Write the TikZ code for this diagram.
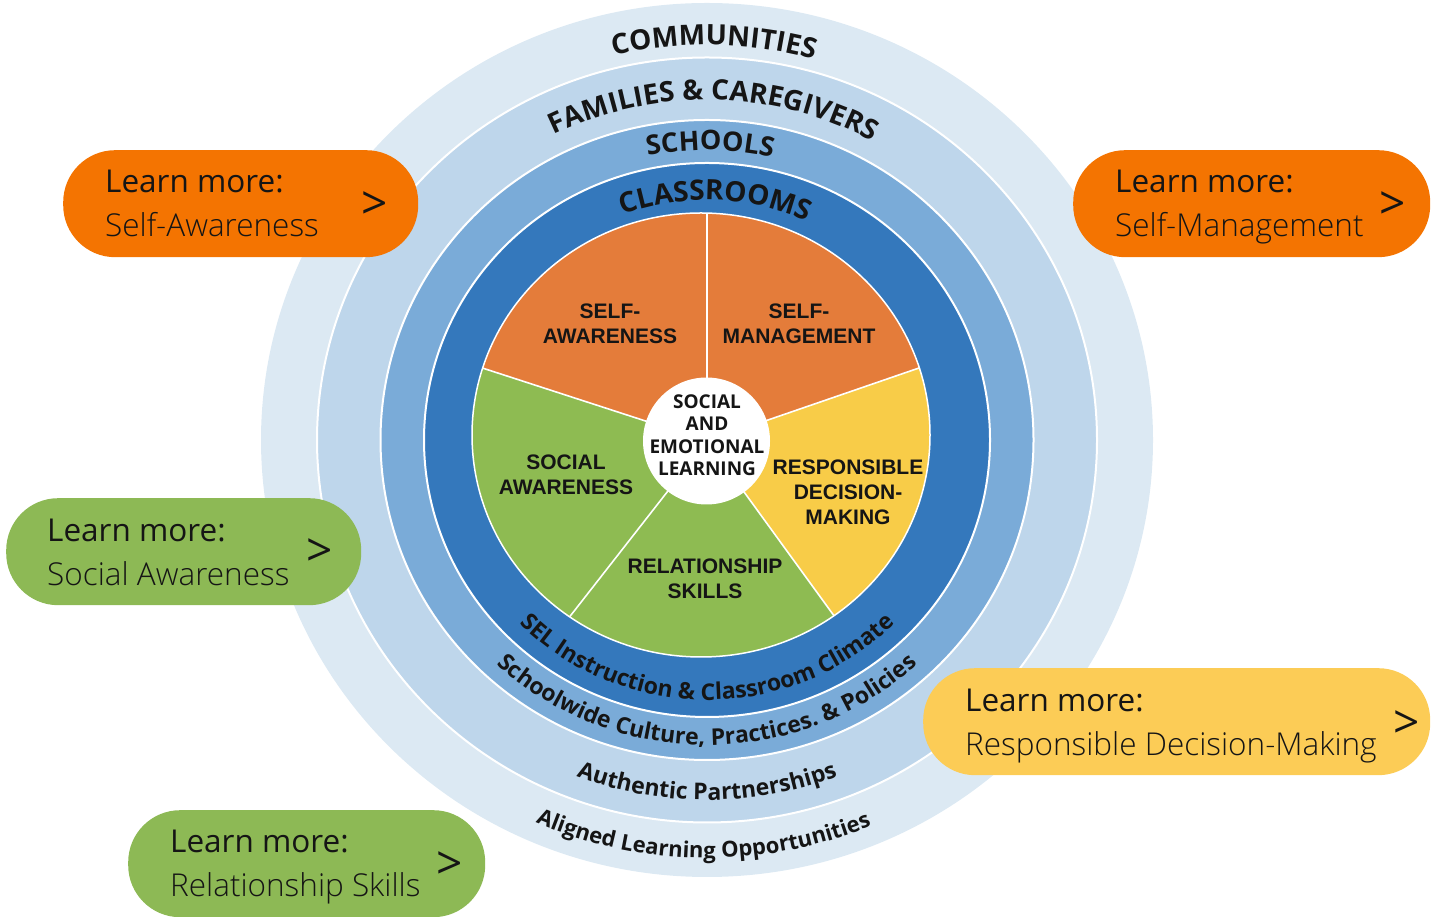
\documentclass[tikz,border=0pt]{standalone}
\usepackage{fontspec}
\setmainfont{Open Sans}
\newfontfamily\btnlight{Open Sans Light}
\newfontfamily\pielabel{Liberation Sans}
\usetikzlibrary{decorations.text}

\definecolor{ringcomm}{HTML}{DCE9F3}
\definecolor{ringfam}{HTML}{BED6EB}
\definecolor{ringschool}{HTML}{7AABD8}
\definecolor{ringclass}{HTML}{3478BC}
\definecolor{pieorange}{HTML}{E47C3A}
\definecolor{piegreen}{HTML}{8EBB52}
\definecolor{pieyellow}{HTML}{F8CC48}
\definecolor{btnorange}{HTML}{F47401}
\definecolor{btngreen}{HTML}{8DB955}
\definecolor{btnyellow}{HTML}{FCCC56}
\definecolor{ink}{HTML}{151515}

\newcommand\capsarc{\bfseries\fontsize{28}{28}\selectfont}
\newcommand\capsarcs{\bfseries\fontsize{27}{27}\selectfont}
\newcommand\lowarc{\bfseries\fontsize{23}{23}\selectfont}
\newcommand\lowarcs{\bfseries\fontsize{22}{22}\selectfont}

\tikzset{
  ringedge/.style={draw=white, line width=2pt},
  curvetext/.style={decorate, decoration={text along path, text align=center, text color=ink}},
  sectorline/.style={draw=white, line width=1.6pt},
  pielbl/.style={align=center, inner sep=0pt, text=ink,
    font=\pielabel\bfseries\fontsize{21}{25}\selectfont},
  corelbl/.style={align=center, inner sep=0pt, text=ink,
    font=\bfseries\fontsize{19}{22.5}\selectfont},
  btnbox/.style={rectangle, rounded corners=52pt, minimum height=107pt,
    inner sep=0pt, anchor=north west, draw=none},
  btnhead/.style={anchor=base west, inner sep=0pt, text=ink,
    font=\fontsize{31.5}{31.5}\selectfont},
  btnname/.style={anchor=base west, inner sep=0pt, text=ink,
    font=\btnlight\fontsize{31.5}{31.5}\selectfont},
  btnarrow/.style={inner sep=0pt, text=ink,
    font=\fontsize{46}{46}\selectfont},
}

\begin{document}
\begin{tikzpicture}[x=1pt,y=1pt]
\useasboundingbox (0,0) rectangle (1431,917);

% nested rings, all around one centre
\begin{scope}[shift={(707,477)}]
  \fill[ringcomm] (0,0) ellipse[x radius=446pt, y radius=437pt];
  \filldraw[fill=ringfam, ringedge] (0,0) ellipse[x radius=390pt, y radius=382.5pt];
  \filldraw[fill=ringschool, ringedge] (0,0) ellipse[x radius=326.5pt, y radius=320pt];
  \filldraw[fill=ringclass, ringedge] (0,0) ellipse[x radius=283pt, y radius=277pt];

  % five competency sectors, clipped to the inner disc
  \coordinate (sc) at (0,-1);
  \coordinate (pc) at (-6,5);
  \begin{scope}
    \clip (pc) ellipse[x radius=229pt, y radius=222pt];
    \fill[pieorange] (sc) -- +(90:400pt) -- +(162:400pt) -- cycle;
    \fill[pieorange] (sc) -- +(19:400pt) -- +(90:400pt) -- cycle;
    \fill[pieyellow] (sc) -- +(-54:400pt) -- +(19:400pt) -- cycle;
    \fill[piegreen] (sc) -- +(-128:400pt) -- +(-54:400pt) -- cycle;
    \fill[piegreen] (sc) -- +(162:400pt) -- +(-128:400pt) -- cycle;
    \foreach \a in {90,19,-54,-128,162}
      \draw[sectorline] (sc) -- +(\a:400pt);
  \end{scope}
  \draw[white, line width=1.5pt] (pc) ellipse[x radius=229pt, y radius=222pt];

  % ring titles across the top
  \path[curvetext, decoration={text={|\capsarc|COMMUNITIES}}]
    (139:403pt and 395pt) arc[start angle=139, end angle=39, x radius=403pt, y radius=395pt];
  \path[curvetext, decoration={text={|\capsarc|FAMILIES {\&} CAREGIVERS}}]
    (158.8:347pt and 340pt) arc[start angle=158.8, end angle=18.8, x radius=347pt, y radius=340pt];
  \path[curvetext, decoration={text={|\capsarcs|SCHOOLS}}]
    (139.4:296pt and 290pt) arc[start angle=139.4, end angle=39.4, x radius=296pt, y radius=290pt];
  \path[curvetext, decoration={text={|\capsarc|CLASSROOMS}}]
    (138:245pt and 240pt) arc[start angle=138, end angle=38, x radius=245pt, y radius=240pt];

  % ring practices across the bottom
  \path[curvetext, decoration={text={|\lowarc|SEL Instruction {\&} Classroom Climate}}]
    (200:265pt and 260pt) arc[start angle=200, end angle=340, x radius=265pt, y radius=260pt];
  \path[curvetext, decoration={text={|\lowarc|Schoolwide Culture, Practices. {\&} Policies}}]
    (200:311pt and 305pt) arc[start angle=200, end angle=340, x radius=311pt, y radius=305pt];
  \path[curvetext, decoration={text={|\lowarc|Authentic Partnerships}}]
    (210:367pt and 360pt) arc[start angle=210, end angle=330, x radius=367pt, y radius=360pt];
  \path[curvetext, decoration={text={|\lowarcs|Aligned Learning Opportunities}}]
    (209.5:426pt and 418pt) arc[start angle=209.5, end angle=329.5, x radius=426pt, y radius=418pt];
\end{scope}

% centre disc and sector labels
\node[circle, fill=white, minimum size=127pt, inner sep=0pt] (selCore) at (706.5,476) {};
\node[corelbl] (selText) at (707,482) {SOCIAL\\AND\\EMOTIONAL\\LEARNING};
\node[pielbl] (lblSA) at (610,593) {SELF-\\AWARENESS};
\node[pielbl] (lblSM) at (799,593) {SELF-\\MANAGEMENT};
\node[pielbl] (lblSoc) at (566,442) {SOCIAL\\AWARENESS};
\node[pielbl] (lblRDM) at (848,425) {RESPONSIBLE\\DECISION-\\MAKING};
\node[pielbl] (lblRS) at (705,338) {RELATIONSHIP\\SKILLS};

% "Learn more" buttons
\node[btnbox, fill=btnorange, minimum width=355pt] (saBox) at (63,767) {};
\node[btnhead] (saHead) at (105,724) {Learn more:};
\node[btnname] (saName) at (105,680) {Self-Awareness};
\node[btnarrow] (saGo) at (375,711) {>};

\node[btnbox, fill=btnorange, minimum width=357pt] (smBox) at (1073,767) {};
\node[btnhead] (smHead) at (1115,724) {Learn more:};
\node[btnname] (smName) at (1115,680) {Self-Management};
\node[btnarrow] (smGo) at (1393,711) {>};

\node[btnbox, fill=btngreen, minimum width=355pt] (socBox) at (6,419) {};
\node[btnhead] (socHead) at (47,375) {Learn more:};
\node[btnname] (socName) at (47,331) {Social Awareness};
\node[btnarrow] (socGo) at (320,364) {>};

\node[btnbox, fill=btnyellow, minimum width=507pt] (rdmBox) at (923,249) {};
\node[btnhead] (rdmHead) at (965,205) {Learn more:};
\node[btnname] (rdmName) at (965,161) {Responsible Decision-Making};
\node[btnarrow] (rdmGo) at (1407,192) {>};

\node[btnbox, fill=btngreen, minimum width=357pt] (rsBox) at (128,107) {};
\node[btnhead] (rsHead) at (170,64) {Learn more:};
\node[btnname] (rsName) at (170,20) {Relationship Skills};
\node[btnarrow] (rsGo) at (450,51) {>};
\end{tikzpicture}
\end{document}
